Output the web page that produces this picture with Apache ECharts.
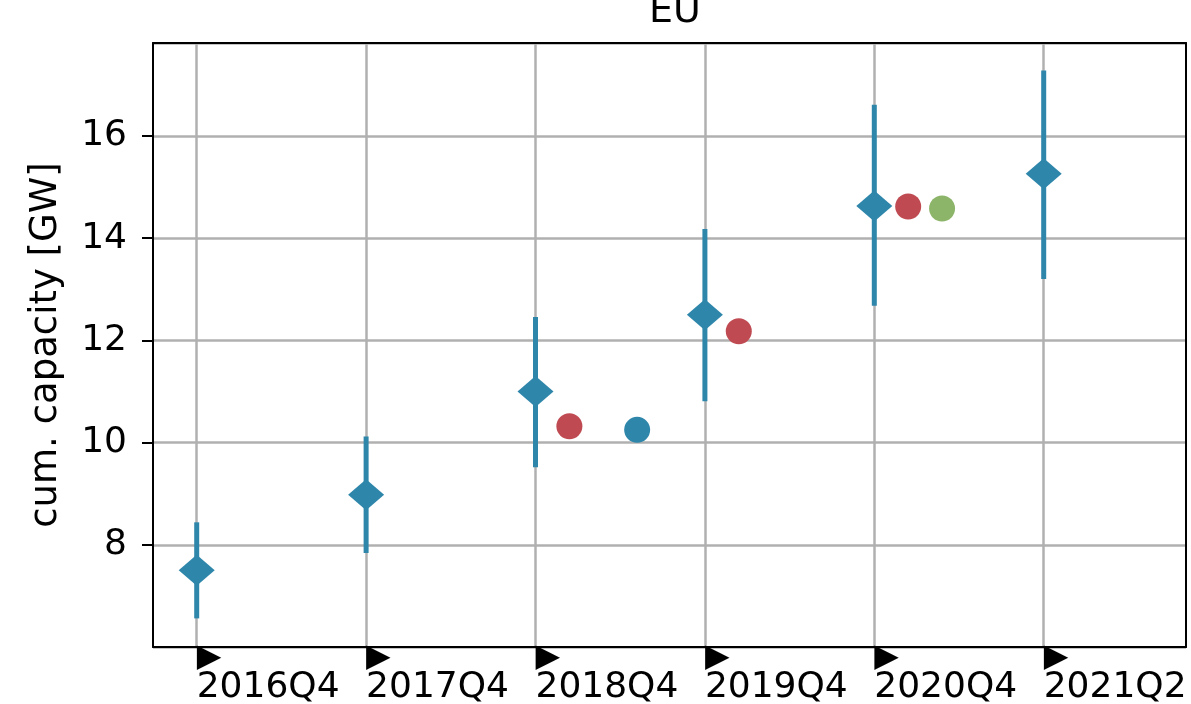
<!DOCTYPE html>
<html>
<head>
<meta charset="utf-8">
<script src="https://cdn.jsdelivr.net/npm/echarts@6/dist/echarts.min.js"></script>
<style>
  html, body { margin: 0; padding: 0; background: #ffffff; }
  #chart { width: 1191px; height: 704px; }
</style>
</head>
<body>
<div id="chart"></div>
<script>
// Quarter labels placed on integer positions of the x axis
const quarters = ['2016Q4', '2017Q4', '2018Q4', '2019Q4', '2020Q4', '2021Q2'];

// Central estimate with its uncertainty range, one per quarter (GW)
const centralEstimate = [7.50, 8.98, 11.00, 12.50, 14.63, 15.26];
const rangeLow        = [6.56, 7.84, 9.52, 10.81, 12.68, 13.20];
const rangeHigh       = [8.44, 10.12, 12.46, 14.18, 16.61, 17.28];

// Other reported values, positioned between quarters
const redX   = [2.2, 3.2, 4.2];
const redY   = [10.32, 12.18, 14.62];
const blueX  = [2.6];
const blueY  = [10.25];
const greenX = [4.4];
const greenY = [14.58];

const yTicks = [8, 10, 12, 14, 16];
const xTicks = quarters.map((q, i) => i);

const X_MIN = -0.258, X_MAX = 5.84;
const Y_MIN = 6, Y_MAX = 17.82;

const BLUE = '#2E86AB';
const RED = '#BF4A51';
const GREEN = '#8CB56A';
const FONT = 'DejaVu Sans';
const FRAME = { show: true, onZero: false, lineStyle: { color: '#000', width: 2 } };

const zip = (xs, ys) => xs.map((x, i) => [x, ys[i]]);

const chart = echarts.init(document.getElementById('chart'), null, { renderer: 'canvas' });

chart.setOption({
  animation: false,
  backgroundColor: '#ffffff',
  title: {
    text: 'EU',
    left: 670,
    textAlign: 'center',
    top: -12,
    textStyle: { fontFamily: FONT, fontSize: 38, fontWeight: 'normal', color: '#000' }
  },
  grid: {
    left: 153, right: 5, top: 43, bottom: 57,
    outerBoundsMode: 'none',
    containLabel: false
  },
  xAxis: [
    {
      type: 'value',
      min: X_MIN,
      max: X_MAX,
      axisLine: FRAME,
      axisTick: { show: false, customValues: xTicks },
      splitLine: { show: true, lineStyle: { color: '#b0b0b0', width: 2.5 } },
      axisLabel: {
        customValues: xTicks,
        margin: -1,
        align: 'left',
        formatter: v => '{tri|\u25B6}\n{q|' + quarters[Math.round(v)] + '}',
        rich: {
          tri: { fontFamily: FONT, fontSize: 32, lineHeight: 24, color: '#000', align: 'left' },
          q: { fontFamily: FONT, fontSize: 36, lineHeight: 36, color: '#000', align: 'left' }
        }
      },
      z: 5
    },
    {
      // top edge of the frame
      type: 'value',
      position: 'top',
      min: X_MIN,
      max: X_MAX,
      axisLine: FRAME,
      axisTick: { show: false },
      axisLabel: { show: false },
      splitLine: { show: false },
      z: 6
    }
  ],
  yAxis: [
    {
      type: 'value',
      min: Y_MIN,
      max: Y_MAX,
      interval: 2,
      name: 'cum. capacity [GW]',
      nameLocation: 'middle',
      nameGap: 88,
      nameTextStyle: { fontFamily: FONT, fontSize: 37, color: '#000' },
      axisLine: FRAME,
      axisTick: { show: true, length: 11, lineStyle: { color: '#000', width: 2 } },
      splitLine: { show: true, lineStyle: { color: '#b0b0b0', width: 2.5 } },
      axisLabel: {
        showMinLabel: false,
        showMaxLabel: false,
        margin: 26,
        fontFamily: FONT,
        fontSize: 36,
        color: '#000',
        formatter: v => (yTicks.includes(v) ? String(v) : '')
      },
      z: 5
    },
    {
      // right edge of the frame
      type: 'value',
      position: 'right',
      min: Y_MIN,
      max: Y_MAX,
      axisLine: FRAME,
      axisTick: { show: false },
      axisLabel: { show: false },
      splitLine: { show: false },
      z: 6
    }
  ],
  series: [
    {
      name: 'range',
      type: 'custom',
      data: quarters.map((q, i) => [i, rangeLow[i], rangeHigh[i]]),
      renderItem: (params, api) => {
        const lo = api.coord([api.value(0), api.value(1)]);
        const hi = api.coord([api.value(0), api.value(2)]);
        return {
          type: 'line',
          shape: { x1: lo[0], y1: lo[1], x2: hi[0], y2: hi[1] },
          style: { stroke: BLUE, lineWidth: 5 }
        };
      },
      z: 10
    },
    {
      name: 'central',
      type: 'scatter',
      symbol: 'diamond',
      symbolSize: [36, 31],
      itemStyle: { color: BLUE, opacity: 1 },
      data: quarters.map((q, i) => [i, centralEstimate[i]]),
      z: 11
    },
    {
      name: 'red',
      type: 'scatter',
      symbol: 'circle',
      symbolSize: 26,
      itemStyle: { color: RED, opacity: 1 },
      data: zip(redX, redY),
      z: 11
    },
    {
      name: 'blue',
      type: 'scatter',
      symbol: 'circle',
      symbolSize: 26,
      itemStyle: { color: BLUE, opacity: 1 },
      data: zip(blueX, blueY),
      z: 11
    },
    {
      name: 'green',
      type: 'scatter',
      symbol: 'circle',
      symbolSize: 26,
      itemStyle: { color: GREEN, opacity: 1 },
      data: zip(greenX, greenY),
      z: 11
    }
  ]
});
</script>
</body>
</html>
